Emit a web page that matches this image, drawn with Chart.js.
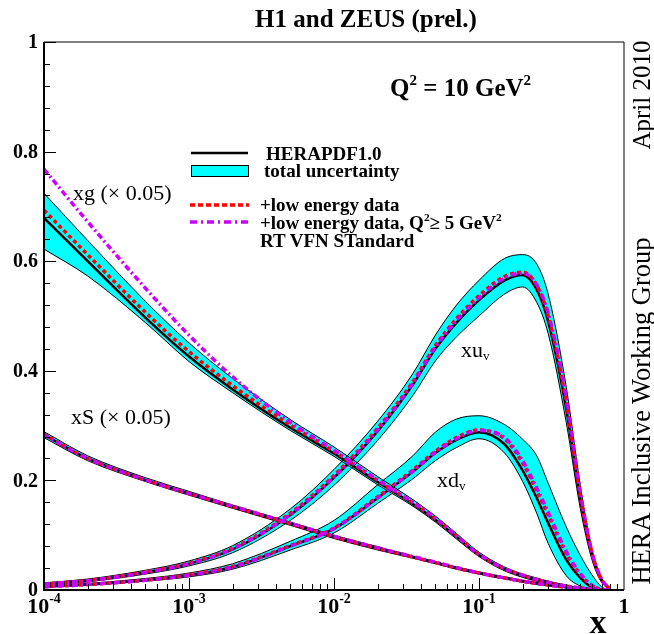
<!DOCTYPE html>
<html>
<head>
<meta charset="utf-8">
<title>HERAPDF1.0 Q2 = 10 GeV2</title>
<script src="https://cdn.jsdelivr.net/npm/chart.js@4.4.1/dist/chart.umd.min.js"></script>
<style>
  html, body { margin: 0; padding: 0; background: #fff; }
  #wrap { position: relative; width: 654px; height: 634px; overflow: hidden; }
  #pdfChart { position: absolute; left: 0; top: 0; }
  .t { position: absolute; font-family: "Liberation Serif", "Times New Roman", serif; color: #000; white-space: nowrap; line-height: 1; }
  .b { font-weight: bold; }
  .c { transform: translate(-50%, -50%); }
  .l { transform: translate(0, -50%); }
  .v { transform: translate(-50%, -50%) rotate(-90deg); }
  sup { font-size: 60%; line-height: 0; vertical-align: 0.7em; }
  sub { font-size: 60%; line-height: 0; vertical-align: -0.25em; }
</style>
</head>
<body>
<div id="wrap">
  <canvas id="pdfChart" width="654" height="634"></canvas>

  <div class="t b c" style="left:366px; top:18px; font-size:25px;">H1 and ZEUS (prel.)</div>
  <div class="t b l" style="left:390px; top:87px; font-size:25px;">Q<sup>2</sup> = 10 GeV<sup>2</sup></div>

  <div class="t b l" style="left:266px; top:153px; font-size:19px;">HERAPDF1.0</div>
  <div class="t b l" style="left:264px; top:170px; font-size:19px;">total uncertainty</div>
  <div class="t b l" style="left:260px; top:204px; font-size:19px;">+low energy data</div>
  <div class="t b l" style="left:260px; top:222px; font-size:19px;">+low energy data, Q<sup>2</sup>&#8805; 5 GeV<sup>2</sup></div>
  <div class="t b l" style="left:260px; top:240px; font-size:19px;">RT VFN STandard</div>

  <div class="t l" style="left:73px; top:193px; font-size:22px;">xg (&#215; 0.05)</div>
  <div class="t l" style="left:71px; top:417px; font-size:22px;">xS (&#215; 0.05)</div>
  <div class="t l" style="left:461px; top:350px; font-size:22px;">xu<sub>v</sub></div>
  <div class="t l" style="left:437px; top:480px; font-size:22px;">xd<sub>v</sub></div>

  <div class="t v" style="left:641px; top:95px; font-size:25px;">April 2010</div>
  <div class="t v" style="left:641px; top:411px; font-size:26.5px;">HERA Inclusive Working Group</div>

  <div class="t b c" style="left:598px; top:622px; font-size:34px;">x</div>
</div>

<script>
// x grid shared by all curves
const xGrid = [1e-4, 2e-4, 5e-4, 1e-3, 2e-3, 5e-3, 0.01, 0.02, 0.035, 0.05, 0.07,
               0.1, 0.15, 0.2, 0.25, 0.3, 0.4, 0.5, 0.6, 0.7, 0.8];

// xg (x 0.05)
const xgCentral = [0.679, 0.600, 0.497, 0.426, 0.366, 0.296, 0.249, 0.197, 0.157, 0.128, 0.097, 0.064, 0.038, 0.026, 0.019, 0.014, 0.007, 0.0035, 0.0015, 0.0004, 0];
const xgUpper   = [0.724, 0.638, 0.527, 0.451, 0.386, 0.311, 0.261, 0.207, 0.165, 0.135, 0.103, 0.069, 0.042, 0.029, 0.022, 0.016, 0.009, 0.0045, 0.002, 0.0006, 0];
const xgLower   = [0.622, 0.573, 0.488, 0.417, 0.360, 0.291, 0.244, 0.192, 0.153, 0.124, 0.093, 0.061, 0.035, 0.023, 0.016, 0.012, 0.005, 0.0025, 0.001, 0.0002, 0];
const xgLowE    = [0.693, 0.612, 0.507, 0.435, 0.373, 0.301, 0.253, 0.200, 0.159, 0.130, 0.099, 0.065, 0.039, 0.027, 0.019, 0.014, 0.007, 0.0035, 0.0015, 0.0004, 0];
const xgLowEQ5  = [0.768, 0.672, 0.551, 0.465, 0.389, 0.306, 0.255, 0.201, 0.160, 0.131, 0.099, 0.065, 0.039, 0.027, 0.019, 0.014, 0.007, 0.0035, 0.0015, 0.0004, 0];

// xS (x 0.05)
const xsCentral = [0.283, 0.240, 0.201, 0.176, 0.152, 0.121, 0.097, 0.076, 0.060, 0.050, 0.040, 0.031, 0.022, 0.016, 0.012, 0.009, 0.005, 0.0025, 0.001, 0.0003, 0];
const xsUpper   = [0.289, 0.245, 0.205, 0.180, 0.155, 0.124, 0.100, 0.079, 0.062, 0.052, 0.042, 0.033, 0.024, 0.018, 0.014, 0.010, 0.006, 0.003, 0.0012, 0.0004, 0];
const xsLower   = [0.278, 0.236, 0.198, 0.173, 0.149, 0.118, 0.094, 0.073, 0.058, 0.048, 0.038, 0.029, 0.020, 0.014, 0.010, 0.008, 0.004, 0.002, 0.0008, 0.0002, 0];
const xsLowE    = [0.284, 0.240, 0.201, 0.176, 0.152, 0.121, 0.097, 0.076, 0.060, 0.050, 0.040, 0.031, 0.022, 0.016, 0.012, 0.009, 0.005, 0.0025, 0.001, 0.0003, 0];
const xsLowEQ5  = [0.283, 0.240, 0.201, 0.176, 0.153, 0.122, 0.098, 0.077, 0.061, 0.051, 0.041, 0.031, 0.022, 0.016, 0.012, 0.009, 0.005, 0.0025, 0.001, 0.0003, 0];

// xu_v
const xuCentral = [0.011, 0.017, 0.032, 0.048, 0.074, 0.137, 0.205, 0.290, 0.375, 0.440, 0.488, 0.529, 0.565, 0.575, 0.548, 0.490, 0.330, 0.165, 0.065, 0.018, 0.002];
const xuUpper   = [0.013, 0.020, 0.036, 0.053, 0.081, 0.148, 0.220, 0.308, 0.395, 0.465, 0.520, 0.565, 0.605, 0.612, 0.595, 0.540, 0.370, 0.190, 0.076, 0.022, 0.003];
const xuLower   = [0.009, 0.015, 0.029, 0.044, 0.068, 0.127, 0.191, 0.273, 0.355, 0.418, 0.462, 0.500, 0.540, 0.553, 0.525, 0.468, 0.305, 0.148, 0.056, 0.014, 0.001];
const xuLowE    = [0.011, 0.017, 0.033, 0.049, 0.076, 0.140, 0.209, 0.295, 0.380, 0.446, 0.495, 0.537, 0.572, 0.580, 0.556, 0.500, 0.342, 0.172, 0.068, 0.019, 0.002];
const xuLowEQ5  = [0.011, 0.017, 0.032, 0.048, 0.075, 0.138, 0.206, 0.292, 0.377, 0.443, 0.492, 0.533, 0.569, 0.578, 0.557, 0.505, 0.350, 0.178, 0.070, 0.020, 0.002];

// xd_v
const xdCentral = [0.006, 0.010, 0.018, 0.027, 0.042, 0.080, 0.112, 0.168, 0.216, 0.250, 0.274, 0.288, 0.266, 0.218, 0.168, 0.122, 0.055, 0.022, 0.005, 0.001, 0];
const xdUpper   = [0.008, 0.012, 0.021, 0.031, 0.048, 0.089, 0.127, 0.192, 0.245, 0.288, 0.312, 0.318, 0.302, 0.275, 0.245, 0.195, 0.115, 0.063, 0.028, 0.006, 0];
const xdLower   = [0.005, 0.009, 0.016, 0.024, 0.038, 0.073, 0.104, 0.158, 0.203, 0.236, 0.260, 0.276, 0.250, 0.198, 0.140, 0.085, 0.026, 0.007, 0.001, 0, 0];
const xdLowE    = [0.006, 0.010, 0.018, 0.028, 0.043, 0.081, 0.113, 0.170, 0.219, 0.253, 0.278, 0.292, 0.276, 0.232, 0.181, 0.137, 0.066, 0.028, 0.008, 0.001, 0];
const xdLowEQ5  = [0.006, 0.010, 0.018, 0.027, 0.042, 0.080, 0.112, 0.168, 0.217, 0.251, 0.276, 0.291, 0.278, 0.236, 0.186, 0.142, 0.070, 0.030, 0.009, 0.001, 0];

// axis ticks / labels
const xDecades = [1e-4, 1e-3, 1e-2, 1e-1, 1];
const xDecadeLabels = [['10', '-4'], ['10', '-3'], ['10', '-2'], ['10', '-1'], ['1', '']];
const yLabelValues = [0, 0.2, 0.4, 0.6, 0.8, 1];
const yLabels = ['0', '0.2', '0.4', '0.6', '0.8', '1'];

const CYAN = '#00ffff';
const RED = '#ff0000';
const MAGENTA = '#cc00ff';
const FONT = '"Liberation Serif", "Times New Roman", serif';

function pts(ys) {
  return xGrid.map((x, i) => ({ x: x, y: ys[i] }));
}

function curveSets(upper, lower, central, lowE, lowEQ5) {
  return [
    { data: pts(upper), borderColor: '#000', borderWidth: 1, backgroundColor: CYAN, fill: '+1', order: 4 },
    { data: pts(lower), borderColor: '#000', borderWidth: 1, fill: false, order: 4 },
    { data: pts(central), borderColor: '#000', borderWidth: 2.5, fill: false, order: 3 },
    { data: pts(lowE), borderColor: RED, borderWidth: 3.5, borderDash: [4, 3], fill: false, order: 2 },
    { data: pts(lowEQ5), borderColor: MAGENTA, borderWidth: 3.5, borderDash: [6, 3, 2, 3], fill: false, order: 1 }
  ];
}

// frame, inward ticks, tick labels and legend swatches
const framePlugin = {
  id: 'framePlugin',
  afterDraw(chart) {
    const ctx = chart.ctx;
    const a = chart.chartArea;
    const xs = chart.scales.x;
    const ys = chart.scales.y;
    ctx.save();
    ctx.strokeStyle = '#000';
    ctx.fillStyle = '#000';

    // frame
    ctx.lineWidth = 1;
    ctx.beginPath();
    ctx.moveTo(a.left, a.top); ctx.lineTo(a.right, a.top); ctx.lineTo(a.right, a.bottom);
    ctx.stroke();
    ctx.lineWidth = 2;
    ctx.beginPath();
    ctx.moveTo(a.left, a.top); ctx.lineTo(a.left, a.bottom); ctx.lineTo(a.right, a.bottom);
    ctx.stroke();

    // x ticks (log, inward)
    ctx.lineWidth = 1;
    ctx.beginPath();
    for (let e = -4; e < 0; e++) {
      for (let k = 1; k < 10; k++) {
        const px = Math.round(xs.getPixelForValue(k * Math.pow(10, e))) + 0.5;
        const len = k === 1 ? 12 : 6;
        ctx.moveTo(px, a.bottom); ctx.lineTo(px, a.bottom - len);
      }
    }
    // y ticks (inward)
    for (let i = 0; i <= 25; i++) {
      const py = Math.round(ys.getPixelForValue(i * 0.04)) + 0.5;
      const len = i % 5 === 0 ? 12 : 6;
      ctx.moveTo(a.left, py); ctx.lineTo(a.left + len, py);
    }
    ctx.stroke();

    // y labels
    ctx.font = 'bold 20px ' + FONT;
    ctx.textAlign = 'right';
    ctx.textBaseline = 'middle';
    yLabelValues.forEach((v, i) => {
      ctx.fillText(yLabels[i], a.left - 6, ys.getPixelForValue(v) + 1);
    });

    // x labels (base + superscript)
    ctx.textAlign = 'left';
    ctx.textBaseline = 'alphabetic';
    xDecades.forEach((v, i) => {
      const base = xDecadeLabels[i][0];
      const sup = xDecadeLabels[i][1];
      ctx.font = 'bold 22px ' + FONT;
      const wb = ctx.measureText(base).width;
      ctx.font = 'bold 14px ' + FONT;
      const ws = ctx.measureText(sup).width;
      const x0 = xs.getPixelForValue(v) - (wb + ws) / 2;
      ctx.font = 'bold 22px ' + FONT;
      ctx.fillText(base, x0, 613);
      ctx.font = 'bold 14px ' + FONT;
      ctx.fillText(sup, x0 + wb, 603);
    });

    // legend swatches
    ctx.setLineDash([]);
    ctx.lineWidth = 2.5;
    ctx.beginPath(); ctx.moveTo(191, 153); ctx.lineTo(248, 153); ctx.stroke();
    ctx.fillStyle = CYAN;
    ctx.fillRect(191.5, 165.5, 57, 11);
    ctx.lineWidth = 1;
    ctx.strokeRect(191.5, 165.5, 57, 11);
    ctx.lineWidth = 3.5;
    ctx.strokeStyle = RED;
    ctx.setLineDash([5, 3]);
    ctx.beginPath(); ctx.moveTo(190, 205); ctx.lineTo(249, 205); ctx.stroke();
    ctx.strokeStyle = MAGENTA;
    ctx.setLineDash([7, 4, 2, 4]);
    ctx.beginPath(); ctx.moveTo(190, 222); ctx.lineTo(249, 222); ctx.stroke();
    ctx.restore();
  }
};

new Chart(document.getElementById('pdfChart'), {
  type: 'line',
  data: {
    datasets: [].concat(
      curveSets(xgUpper, xgLower, xgCentral, xgLowE, xgLowEQ5),
      curveSets(xsUpper, xsLower, xsCentral, xsLowE, xsLowEQ5),
      curveSets(xuUpper, xuLower, xuCentral, xuLowE, xuLowEQ5),
      curveSets(xdUpper, xdLower, xdCentral, xdLowE, xdLowEQ5)
    )
  },
  options: {
    responsive: false,
    animation: false,
    devicePixelRatio: 1,
    events: [],
    layout: { padding: { left: 44, top: 42, right: 30, bottom: 44 } },
    elements: {
      point: { radius: 0 },
      line: { cubicInterpolationMode: 'monotone' }
    },
    scales: {
      x: { type: 'logarithmic', min: 1e-4, max: 1, display: false },
      y: { type: 'linear', min: 0, max: 1, display: false }
    },
    plugins: {
      legend: { display: false },
      tooltip: { enabled: false },
      filler: { drawTime: 'beforeDatasetsDraw' }
    }
  },
  plugins: [framePlugin]
});
</script>
</body>
</html>
